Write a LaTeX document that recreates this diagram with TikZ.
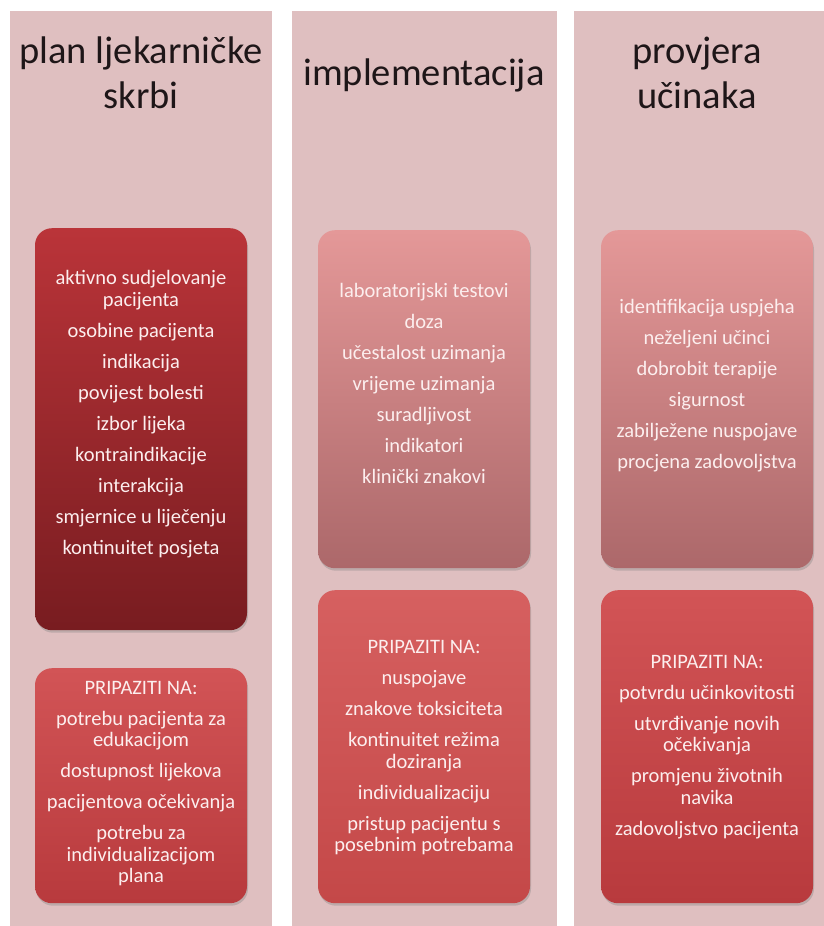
\documentclass[tikz,border=0pt]{standalone}
\usepackage{fontspec}
\setmainfont{Carlito}
\usepackage{xcolor}
\usetikzlibrary{positioning, shadows}

\definecolor{panelpink}{RGB}{223,191,192}
\definecolor{titlegray}{RGB}{30,22,24}
\definecolor{boxwhite}{RGB}{252,238,238}

\begin{document}
\begin{tikzpicture}[x=1pt, y=-1pt,
        panel/.style={fill=panelpink},
        title/.style={text=titlegray, align=center, font=\fontsize{38.5}{45}\selectfont},
        box/.style={rounded corners=17pt, minimum width=212pt,
            drop shadow={opacity=0.35, shadow xshift=1pt, shadow yshift=-2.5pt}},
        darkbox/.style={box, top color={rgb,255:red,186;green,52;blue,57}, bottom color={rgb,255:red,120;green,28;blue,32}},
        lightbox/.style={box, top color={rgb,255:red,228;green,152;blue,152}, bottom color={rgb,255:red,172;green,104;blue,106}},
        warnbox/.style={box, top color={rgb,255:red,210;green,84;blue,86}, bottom color={rgb,255:red,184;green,58;blue,61}},
        boxtext/.style={text=boxwhite, align=center, font=\fontsize{20.5}{21.5}\selectfont}]

    \useasboundingbox (0,0) rectangle (824,926);

    \fill[panel] (10,11) rectangle (272,926);% Left Panel
    \fill[panel] (292,11) rectangle (557,926);% Middle Panel
    \fill[panel] (574,11) rectangle (824,926);% Right Panel

    \node[title] (plan) at (141,73) {plan ljekarničke\\skrbi};
    \node[title] (impl) at (424,75) {implementacija};
    \node[title] (prov) at (697,73) {provjera\\učinaka};

    \node[darkbox, minimum height=402pt, anchor=north] (planA) at (141,228) {};
    \node[warnbox, minimum height=235pt, anchor=north] (planB) at (141,668) {};
    \node[lightbox, minimum height=338pt, anchor=north] (implA) at (424,230) {};
    \node[warnbox, minimum height=313pt, anchor=north, top color={rgb,255:red,214;green,96;blue,96}, bottom color={rgb,255:red,196;green,72;blue,72}] (implB) at (424,590) {};
    \node[lightbox, minimum height=338pt, anchor=north] (provA) at (707,230) {};
    \node[warnbox, minimum height=313pt, anchor=north] (provB) at (707,590) {};

    \node[boxtext] (planAtext) at ([yshift=15pt]planA.center) {aktivno sudjelovanje\\pacijenta\\[9.5pt]osobine pacijenta\\[9.5pt]indikacija\\[9.5pt]povijest bolesti\\[9.5pt]izbor lijeka\\[9.5pt]kontraindikacije\\[9.5pt]interakcija\\[9.5pt]smjernice u liječenju\\[9.5pt]kontinuitet posjeta};
    \node[boxtext] (planBtext) at ([yshift=2pt]planB.center) {PRIPAZITI NA:\\[9.5pt]potrebu pacijenta za\\edukacijom\\[9.5pt]dostupnost lijekova\\[9.5pt]pacijentova očekivanja\\[9.5pt]potrebu za\\individualizacijom\\plana};
    \node[boxtext] (implAtext) at ([yshift=16pt]implA.center) {laboratorijski testovi\\[9.5pt]doza\\[9.5pt]učestalost uzimanja\\[9.5pt]vrijeme uzimanja\\[9.5pt]suradljivost\\[9.5pt]indikatori\\[9.5pt]klinički znakovi};
    \node[boxtext] (implBtext) at ([yshift=-1pt]implB.center) {PRIPAZITI NA:\\[9.5pt]nuspojave\\[9.5pt]znakove toksiciteta\\[9.5pt]kontinuitet režima\\doziranja\\[9.5pt]individualizaciju\\[9.5pt]pristup pacijentu s\\posebnim potrebama};
    \node[boxtext] (provAtext) at ([yshift=14pt]provA.center) {identifikacija uspjeha\\[9.5pt]neželjeni učinci\\[9.5pt]dobrobit terapije\\[9.5pt]sigurnost\\[9.5pt]zabilježene nuspojave\\[9.5pt]procjena zadovoljstva};
    \node[boxtext] (provBtext) at (provB.center) {PRIPAZITI NA:\\[9.5pt]potvrdu učinkovitosti\\[9.5pt]utvrđivanje novih\\očekivanja\\[9.5pt]promjenu životnih\\navika\\[9.5pt]zadovoljstvo pacijenta};
\end{tikzpicture}
\end{document}
